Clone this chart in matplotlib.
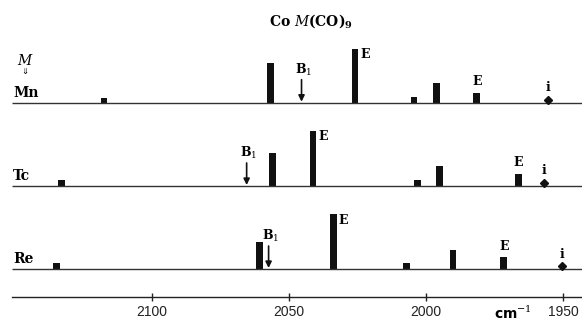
import matplotlib.pyplot as plt
import numpy as np

# IR band positions (cm-1) and relative intensities for CoM(CO)9
rows = ["Mn", "Tc", "Re"]
mn_nu = [2117.4, 2056.7, 2025.9, 2004.4, 1996.3, 1981.5]
mn_int = [5, 40, 54, 6, 20, 10]
tc_nu = [2132.8, 2056.1, 2041.2, 2003.0, 1995.0, 1966.4]
tc_int = [6, 33, 55, 6, 20, 12]
re_nu = [2134.8, 2060.8, 2033.6, 2007.2, 1990.2, 1971.7]
re_int = [6.5, 27, 55, 6, 19, 12]
b1_nu = [2045.4, 2065.4, 2057.4]      # B1 arrows
imp_nu = [1955.6, 1957.1, 1950.4]     # impurity bands "i"
e_tall = 2   # index of the strong E band
e_small = 5  # index of the weak E band
xticks = [2100, 2050, 2000, 1950]

plt.rcParams["mathtext.fontset"] = "dejavuserif"

W, H = 582, 321
fig = plt.figure(figsize=(W / 100, H / 100), dpi=100)
ax = fig.add_axes([12 / W, 24 / H, 1 - 12 / W, 1 - 24 / H])
ax.set_xlim(2150.9, 1943.2)
ax.set_ylim(0, 297)

baselines = [194.3, 111.0, 28.0]
serif = "DejaVu Serif"
ink = "#111111"

spectra = [(mn_nu, mn_int), (tc_nu, tc_int), (re_nu, re_int)]
for k, (nu, inten) in enumerate(spectra):
    base = baselines[k]
    ax.hlines(base, 2150.9, 1943.2, color="#333333", lw=1.0)
    ax.bar(nu, inten, width=2.5, bottom=base, color=ink, edgecolor="none")

    ax.text(0.002, base + 10, rows[k], transform=ax.get_yaxis_transform(),
            fontsize=10, fontweight="bold", family=serif, va="center", ha="left")

    # strong E label, right of bar top
    ax.annotate("E", (nu[e_tall], base + inten[e_tall]), xytext=(5, -6),
                textcoords="offset pixels", fontsize=9, fontweight="bold",
                family=serif, va="center", ha="left")
    # weak E label, above bar
    ax.annotate("E", (nu[e_small], base + inten[e_small]), xytext=(0, 11),
                textcoords="offset pixels", fontsize=9, fontweight="bold",
                family=serif, va="center", ha="center")

    # B1 arrow
    ax.annotate("", xy=(b1_nu[k], base + 1), xytext=(b1_nu[k], base + 23),
                arrowprops=dict(arrowstyle="-|>", color=ink, lw=1.2,
                                mutation_scale=9, shrinkA=0, shrinkB=0))
    ax.annotate("B$_1$", (b1_nu[k], base + 33), xytext=(2, 0),
                textcoords="offset pixels", fontsize=9, fontweight="bold",
                family=serif, va="center", ha="center")

    # impurity marker
    ax.plot(imp_nu[k], base + 3, marker="D", ms=4.5, color=ink, mec=ink)
    ax.text(imp_nu[k], base + 15, "i", fontsize=9, fontweight="bold",
            family=serif, va="center", ha="center")

# M with double arrow above the row labels
ax.text(0.023, baselines[0] + 42, "$M$", transform=ax.get_yaxis_transform(),
        fontsize=10, family=serif, va="center", ha="center")
ax.text(0.023, baselines[0] + 31, "\u21d3", transform=ax.get_yaxis_transform(),
        fontsize=6, family="DejaVu Sans", va="center", ha="center")

fig.text(311 / W, 1 - 21 / H, "Co $M$(CO)$_\\mathbf{9}$", fontsize=10,
         fontweight="bold", family=serif, ha="center", va="center")

for s in ["top", "left", "right"]:
    ax.spines[s].set_visible(False)
ax.spines["bottom"].set_color("#222222")
ax.spines["bottom"].set_linewidth(1.0)
ax.set_yticks([])
ax.set_xticks(xticks)
ax.tick_params(axis="x", direction="inout", length=6, width=1, pad=3,
               labelsize=10, colors="#222222")
for lab in ax.get_xticklabels():
    lab.set_family("Liberation Sans")

fig.text(513 / W, 1 - 313 / H, "cm$^{-1}$", fontsize=10, fontweight="bold",
         family="DejaVu Sans", ha="center", va="center")

fig.savefig("out.png", dpi=100)
